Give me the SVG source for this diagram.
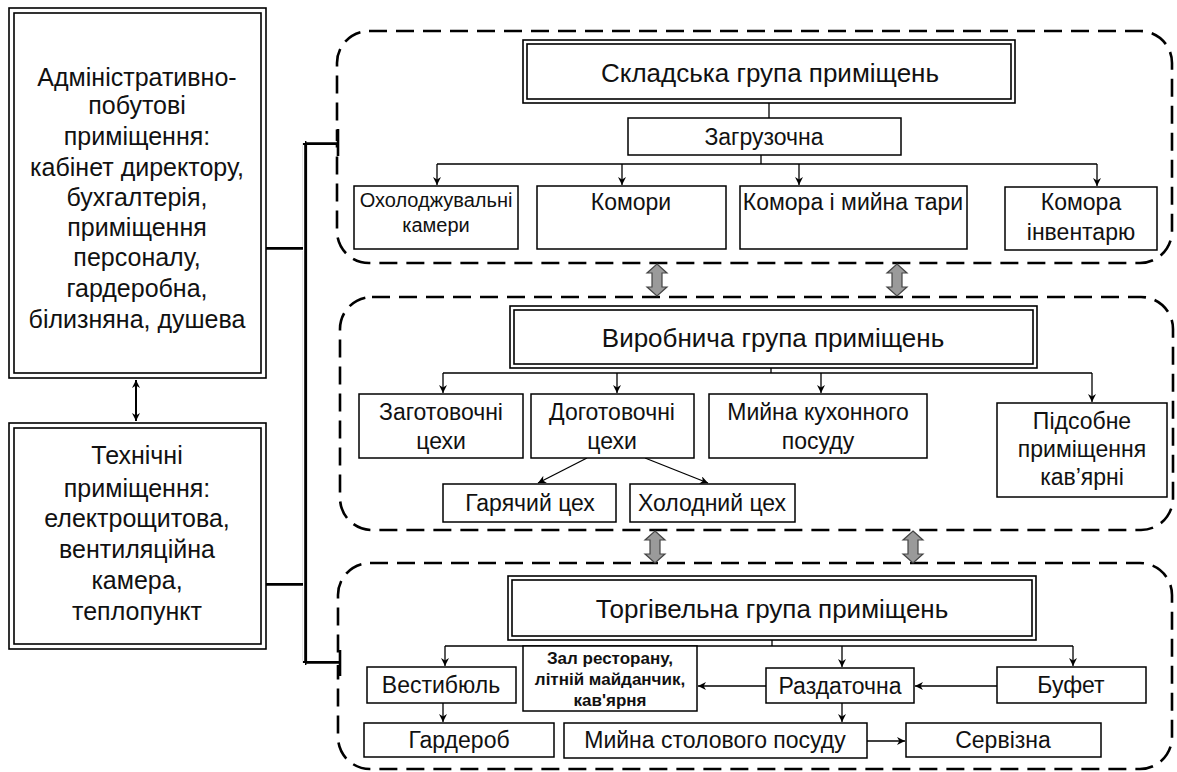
<svg xmlns="http://www.w3.org/2000/svg" width="1177" height="772" viewBox="0 0 1177 772">
<defs>
<style>
text{font-family:"Liberation Sans",Arial,sans-serif;fill:#111;text-anchor:middle}
.box{fill:#fff;stroke:#000;stroke-width:1.5}
.dbl{fill:none;stroke:#000;stroke-width:1.6}
.grp{fill:none;stroke:#000;stroke-width:2.6;stroke-dasharray:18 9}
.ln{fill:none;stroke:#000;stroke-width:1.3}
.arr{fill:none;stroke:#000;stroke-width:1.3;marker-end:url(#ah)}
.dl{fill:none;stroke:#000;stroke-width:4.2}
.dlw{fill:none;stroke:#fff;stroke-width:1.2}
.ga{fill:#9a9a9a;stroke:#444;stroke-width:1.2}
.t25{font-size:25px}
.t26{font-size:26px}
.t23{font-size:23px}
.t20{font-size:20px}
.tb{font-size:17px;font-weight:bold}
</style>
<marker id="ah" viewBox="0 0 10 10" refX="10" refY="5" markerWidth="8" markerHeight="8" orient="auto" markerUnits="userSpaceOnUse">
<path d="M0,0 L10,5 L0,10 L3,5 Z" fill="#000"/>
</marker>
<marker id="ah2" viewBox="0 0 10 10" refX="10" refY="5" markerWidth="8" markerHeight="8" orient="auto-start-reverse" markerUnits="userSpaceOnUse">
<path d="M0,0 L10,5 L0,10 L3,5 Z" fill="#000"/>
</marker>
</defs>
<rect width="1177" height="772" fill="#fff"/>

<!-- group frames -->
<g id="group-storage"><rect class="grp" x="337" y="31" width="835" height="232" rx="32"/></g>
<g id="group-production"><rect class="grp" x="340" y="297" width="833" height="233" rx="32"/></g>
<g id="group-trade"><rect class="grp" x="338" y="563" width="834" height="206" rx="32"/></g>

<!-- connectors -->
<g id="connectors">
<path class="dl" d="M305,143 V663 M266,249 H305 M266,585 H305 M305,143 H337 M305,663 H340"/>
<path class="dlw" d="M303.6,145 V661 M266,250.4 H303.6 M266,586.4 H303.6 M306.4,141.6 H337 M306.4,664.4 H340"/>
<path class="ln" style="stroke-width:2.6" d="M338,129 V156 M340,650 V676"/>
<line x1="136" y1="380" x2="136" y2="421" stroke="#000" stroke-width="2" marker-start="url(#ah2)" marker-end="url(#ah2)"/>

<!-- storage -->
<path class="ln" d="M769,103 V118 M761,155 V164 M437,164 H1097"/>
<path class="arr" d="M437,164 V185"/>
<path class="arr" d="M622,164 V185"/>
<path class="arr" d="M799,164 V185"/>
<path class="arr" d="M1097,164 V186"/>
<!-- production -->
<path class="ln" d="M771,368 V373 M443,373 H1092"/>
<path class="arr" d="M443,373 V393"/>
<path class="arr" d="M617,373 V393"/>
<path class="arr" d="M821,373 V393"/>
<path class="arr" d="M1092,373 V402"/>
<path class="arr" d="M587,458 L538,483"/>
<path class="arr" d="M645,458 L708,483"/>
<!-- trade -->
<path class="ln" d="M772,640 V646 M445,646 H1073"/>
<path class="arr" d="M445,646 V666"/>
<path class="arr" d="M620,646 V656"/>
<path class="arr" d="M842,646 V667"/>
<path class="arr" d="M1073,646 V666"/>
<path class="arr" d="M997,686 H915"/>
<path class="arr" d="M766,686 H698"/>
<path class="arr" d="M443,703 V722"/>
<path class="arr" d="M842,703 V722"/>
<path class="arr" d="M867,741 H905"/>

<!-- gray double arrows -->
<polygon class="ga" points="657,264 667,273 662,273 662,287 667,287 657,296 647,287 652,287 652,273 647,273"/>
<polygon class="ga" points="897,264 907,273 902,273 902,287 907,287 897,296 887,287 892,287 892,273 887,273"/>
<polygon class="ga" points="655,531 665,540 660,540 660,554 665,554 655,563 645,554 650,554 650,540 645,540"/>
<polygon class="ga" points="913,531 923,540 918,540 918,554 923,554 913,563 903,554 908,554 908,540 903,540"/>
</g>

<!-- left boxes -->
<g id="admin">
<rect class="dbl" x="9" y="8" width="257" height="370"/>
<rect class="dbl" x="14" y="13" width="247" height="360"/>
<text class="t25"><tspan x="137" y="86">Адміністративно-</tspan><tspan x="137" y="114">побутові</tspan><tspan x="137" y="145">приміщення:</tspan><tspan x="137" y="176">кабінет директору,</tspan><tspan x="137" y="206">бухгалтерія,</tspan><tspan x="137" y="236">приміщення</tspan><tspan x="137" y="266">персоналу,</tspan><tspan x="137" y="297">гардеробна,</tspan><tspan x="137" y="328">білизняна,  душева</tspan></text>
</g>
<g id="technical">
<rect class="dbl" x="9" y="423" width="257" height="226"/>
<rect class="dbl" x="14" y="428" width="247" height="216"/>
<text class="t25"><tspan x="137" y="464">Технічні</tspan><tspan x="137" y="497">приміщення:</tspan><tspan x="137" y="527">електрощитова,</tspan><tspan x="137" y="558">вентиляційна</tspan><tspan x="137" y="589">камера,</tspan><tspan x="137" y="620">теплопункт</tspan></text>
</g>

<!-- storage group -->
<g id="storage-title">
<rect class="dbl" x="523" y="40" width="492" height="63"/>
<rect class="dbl" x="527" y="44" width="484" height="55"/>
<text class="t26" x="770" y="82">Складська група приміщень</text>
</g>
<g id="zagruzochna"><rect class="box" x="628" y="118" width="273" height="37"/><text class="t23" x="764" y="145">Загрузочна</text></g>
<g id="okholodzh"><rect class="box" x="354" y="186" width="164" height="63"/><text class="t20"><tspan x="436" y="207">Охолоджувальні</tspan><tspan x="436" y="232">камери</tspan></text></g>
<g id="komory"><rect class="box" x="537" y="186" width="189" height="63"/><text class="t23" x="631" y="210">Комори</text></g>
<g id="komora-tary"><rect class="box" x="740" y="186" width="227" height="63"/><text class="t23" x="853" y="210">Комора і мийна тари</text></g>
<g id="komora-inv"><rect class="box" x="1005" y="187" width="152" height="63"/><text class="t23"><tspan x="1081" y="210">Комора</tspan><tspan x="1081" y="240">інвентарю</tspan></text></g>

<!-- production group -->
<g id="production-title">
<rect class="dbl" x="510" y="306" width="527" height="62"/>
<rect class="dbl" x="514" y="310" width="519" height="54"/>
<text class="t26" x="773" y="347">Виробнича група приміщень</text>
</g>
<g id="zagotovochni"><rect class="box" x="359" y="394" width="164" height="64"/><text class="t23"><tspan x="441" y="420">Заготовочні</tspan><tspan x="441" y="449">цехи</tspan></text></g>
<g id="dogotovochni"><rect class="box" x="531" y="394" width="163" height="64"/><text class="t23"><tspan x="612" y="420">Доготовочні</tspan><tspan x="612" y="449">цехи</tspan></text></g>
<g id="myina-kukh"><rect class="box" x="709" y="394" width="218" height="64"/><text class="t23"><tspan x="818" y="420">Мийна кухонного</tspan><tspan x="818" y="449">посуду</tspan></text></g>
<g id="pidsobne"><rect class="box" x="997" y="403" width="170" height="94"/><text class="t23"><tspan x="1082" y="429">Підсобне</tspan><tspan x="1082" y="457">приміщення</tspan><tspan x="1082" y="485">кав’ярні</tspan></text></g>
<g id="hot"><rect class="box" x="443" y="484" width="173" height="38"/><text class="t23" x="530" y="511">Гарячий цех</text></g>
<g id="cold"><rect class="box" x="630" y="484" width="165" height="38"/><text class="t23" x="712" y="511">Холодний цех</text></g>

<!-- trade group -->
<g id="trade-title">
<rect class="dbl" x="508" y="576" width="528" height="64"/>
<rect class="dbl" x="512" y="580" width="520" height="56"/>
<text class="t26" x="772" y="618">Торгівельна група приміщень</text>
</g>
<g id="vestybiul"><rect class="box" x="367" y="667" width="149" height="36"/><text class="t23" x="441" y="693">Вестибюль</text></g>
<g id="zal"><rect class="box" x="523" y="646" width="174" height="65"/><text class="tb"><tspan x="610" y="664">Зал ресторану,</tspan><tspan x="610" y="685">літній майданчик,</tspan><tspan x="610" y="706">кав'ярня</tspan></text></g>
<g id="razdatochna"><rect class="box" x="766" y="668" width="148" height="35"/><text class="t23" x="840" y="694">Раздаточна</text></g>
<g id="bufet"><rect class="box" x="997" y="667" width="149" height="36"/><text class="t23" x="1071" y="693">Буфет</text></g>
<g id="garderob"><rect class="box" x="364" y="723" width="190" height="34"/><text class="t23" x="459" y="748">Гардероб</text></g>
<g id="myina-stol"><rect class="box" x="564" y="723" width="303" height="35"/><text class="t23" x="715" y="748">Мийна столового посуду</text></g>
<g id="servizna"><rect class="box" x="906" y="723" width="195" height="34"/><text class="t23" x="1003" y="748">Сервізна</text></g>
</svg>
